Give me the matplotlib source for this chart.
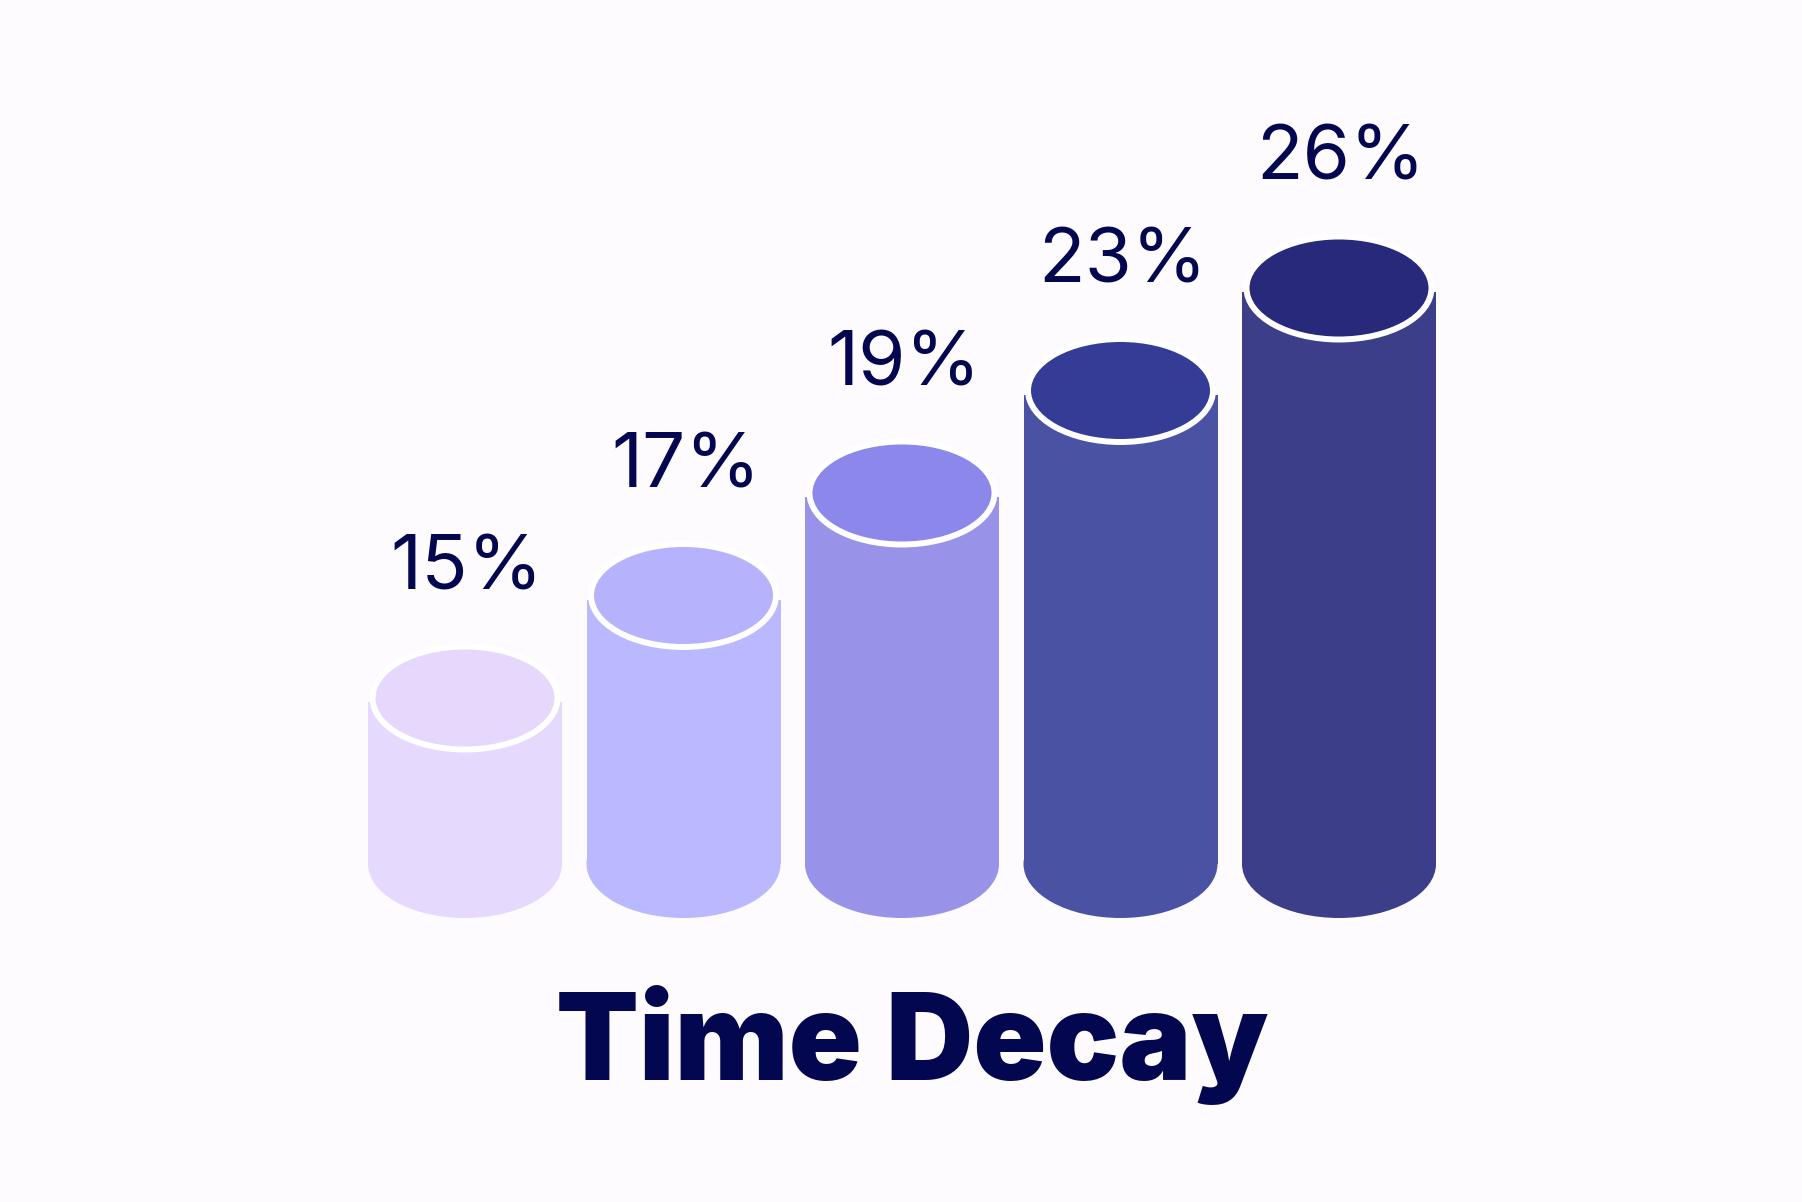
import numpy as np
import matplotlib.pyplot as plt
from matplotlib.patches import Ellipse, Rectangle

# chart data
values = [15, 17, 19, 23, 26]
labels = [f"{v}%" for v in values]
title = "Time Decay"

side_colors = ["#e5dafe", "#bab8fe", "#9893e9", "#4a52a3", "#3d3e89"]
top_colors = ["#e6d7fd", "#b6b2fc", "#8b87eb", "#353c95", "#28297b"]
text_color = "#03074f"
bg = "#fdfbfe"

W, H = 1802, 1202
fig = plt.figure(figsize=(W / 100, H / 100), dpi=100, facecolor=bg)
ax = fig.add_axes([0, 0, 1, 1])
ax.set_facecolor(bg)

# x in category units, y in pixel units (top = 0)
px = 218.5                      # pixels per category step
x0 = 465                        # pixel x of first category
ax.set_xlim(-x0 / px, (W - x0) / px)
ax.set_ylim(H, 0)
ax.axis("off")

base_y = 864                    # centre line of the bottom ellipses
first_top = 702                 # top edge of the lowest cylinder
step = 102.5                    # height step between ranks
half_w = 97 / px
rank = np.argsort(np.argsort(values))

for i, v in enumerate(values):
    top = first_top - rank[i] * step
    body = Rectangle((i - half_w, top), 2 * half_w, base_y - top,
                     facecolor=side_colors[i], edgecolor="none")
    ax.add_patch(body)
    ax.add_patch(Ellipse((i, base_y), 2 * half_w, 108,
                         facecolor=side_colors[i], edgecolor="none"))
    # top face with white rim
    ax.add_patch(Ellipse((i, top - 4), 2 * 92.5 / px, 103,
                         facecolor=top_colors[i], edgecolor="white",
                         linewidth=4.3, zorder=3))
    ax.text(i + 0.01, top - 112, labels[i], ha="center", va="baseline",
            fontsize=55, family=["Inter", "DejaVu Sans"],
            color=text_color, zorder=4)

fig.text(912 / W, 1 - 1080 / H, title, ha="center", va="baseline",
         fontsize=87, fontweight="black", family=["Inter", "DejaVu Sans"],
         color=text_color)

fig.savefig("out.png", dpi=100, facecolor=bg)
